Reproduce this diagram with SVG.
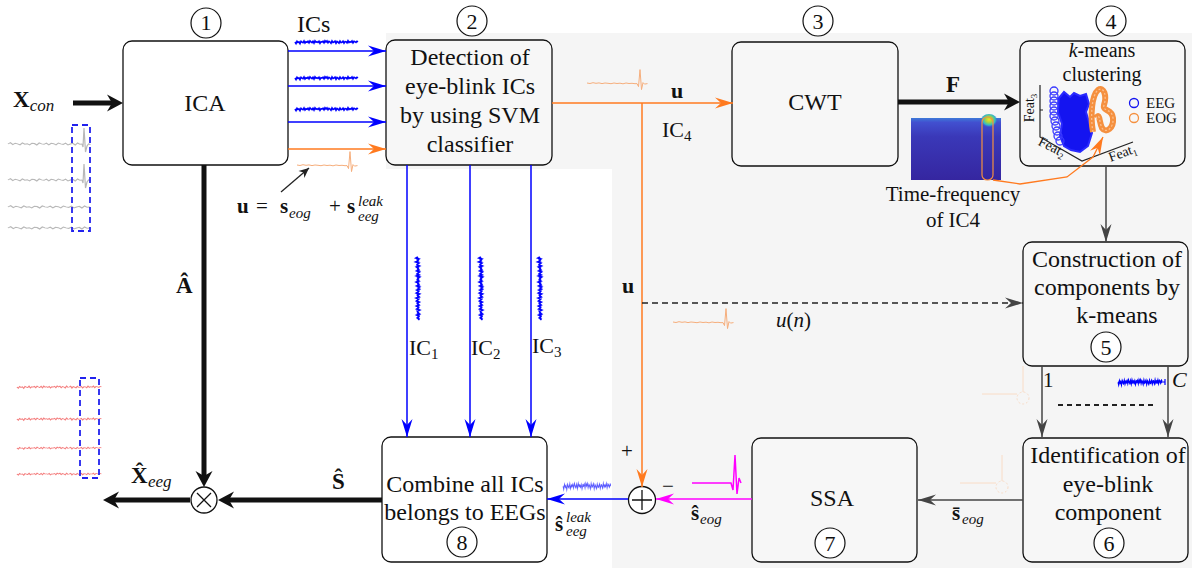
<svg xmlns="http://www.w3.org/2000/svg" width="1192" height="568" viewBox="0 0 1192 568" font-family="Liberation Serif, Tinos, Noto Serif, DejaVu Serif, FreeSerif, Times New Roman, serif">
<style>
.t{font-size:24px;fill:#111;text-anchor:middle}
.s{fill:#111}
.b{font-weight:bold}
.i{font-style:italic}
.box{fill:#f7f7f7;stroke:#111;stroke-width:1.3}
.wbox{fill:#fff;stroke:#111;stroke-width:1.3}
.num{fill:#fff;stroke:#111;stroke-width:1.2}
.nt{font-size:22px;fill:#111;text-anchor:middle}
.sig{fill:none;vector-effect:non-scaling-stroke}
.thick{stroke:#111;stroke-width:5;fill:none}
</style>
<defs>
<marker id="mB" viewBox="-19 -6 20 12" markerWidth="20" markerHeight="12" refX="0" refY="0" orient="auto" markerUnits="userSpaceOnUse"><path d="M0 0L-18 -5.5L-12 0L-18 5.5Z" fill="#0000ff"/></marker>
<marker id="mO" viewBox="-19 -6 20 12" markerWidth="20" markerHeight="12" refX="0" refY="0" orient="auto" markerUnits="userSpaceOnUse"><path d="M0 0L-18 -5.5L-12 0L-18 5.5Z" fill="#ff7a1f"/></marker>
<marker id="mM" viewBox="-19 -6 20 12" markerWidth="20" markerHeight="12" refX="0" refY="0" orient="auto" markerUnits="userSpaceOnUse"><path d="M0 0L-18 -5.5L-12 0L-18 5.5Z" fill="#ff00ff"/></marker>
<marker id="mG" viewBox="-19 -6 20 12" markerWidth="20" markerHeight="12" refX="0" refY="0" orient="auto" markerUnits="userSpaceOnUse"><path d="M0 0L-18 -5.5L-12 0L-18 5.5Z" fill="#444"/></marker>
<marker id="mK" viewBox="-17 -9 18 18" markerWidth="18" markerHeight="18" refX="-10" refY="0" orient="auto" markerUnits="userSpaceOnUse"><path d="M0 0L-16 -8.5L-11 0L-16 8.5Z" fill="#111"/></marker>
<marker id="mP" viewBox="-11 -5 12 10" markerWidth="12" markerHeight="10" refX="0" refY="0" orient="auto" markerUnits="userSpaceOnUse"><path d="M0 0L-10 -4.5L-7 0L-10 4.5Z" fill="#222"/></marker>
<path id="bn" d="M0 0l2 -1.6 2 2.4 2 -1.8 2 .8 2 1.2 2 -2.4 2 1.6 2 -.6 2 1.4 2 -2 2 .4 2 1.8 2 -2.6 2 1.2 2 .6 2 -1.4 2 2 2 -1.8 2 .4 2 1.4 2 -2.2 2 1 2 .8 2 -1.6 2 2.2 2 -1.2 2 -.8 2 2 2 -2.4 2 1.6 2 -.4"/>
<path id="bd" d="M0 0l1 1.5 1 -2.2 1 1.2 1 -.6 1 1.8 1 -2.4 1 .9 1 .5 1 -1.7 1 2.1 1 -1.3 1 .4 1 -.9 1 1.6 1 -2 1 1.1 1 .7 1 -1.5 1 1.9 1 -2.3 1 1.4 1 -.5 1 .8 1 -1.2 1 2 1 -1.6 1 .3 1 -.8 1 1.7 1 -2.1 1 1.2 1 -1.1 1 1.9 1 -1.4 1 .6 1 1.2 1 -2.3 1 1.5 1 -.4 1 -.9 1 2.2 1 -1.8 1 .7 1 .9 1 -2 1 1.4 1 -.3 1 -1 1 1.9 1 -1.5 1 .2 1 1.1 1 -2.1 1 1.7 1 -.8 1 .5 1 -1.3 1 2 1 -1.6 1 .4 1 .8 1 -1.2 1 .6"/>
<path id="eo" d="M0 0l3 .5 3 -.8 3 .6 3 -.4 3 .7 3 -.6 3 .3 3 .4 3 -.7 3 .5 3 -.3 3 .6 3 -.8 3 .5 3 -.2 3 .4 2 -.1 1.5 3 1.5 -17 1.5 20 1.5 -7 1.5 1.5 3 -.5"/>
<linearGradient id="spg" x1="0" y1="0" x2="0" y2="1"><stop offset="0" stop-color="#3d7ad8"/><stop offset=".07" stop-color="#4250d0"/><stop offset=".3" stop-color="#3a38b8"/><stop offset="1" stop-color="#3526a0"/></linearGradient>
<radialGradient id="spot" cx="0.5" cy="0.35" r="0.5"><stop offset="0" stop-color="#f7e21b"/><stop offset=".35" stop-color="#a6d640"/><stop offset=".7" stop-color="#2fb8c8"/><stop offset="1" stop-color="#3b50d0" stop-opacity="0"/></radialGradient>
</defs>

<!-- background -->
<path d="M386 33H1192V568H612V169H386Z" fill="#f5f5f5"/>

<!-- input signals (gray) -->
<g id="input-signals" stroke="#b8b8b8" stroke-width="1.2">
<use href="#bn" class="sig" transform="translate(8,144) scale(1.2,0.8)"/>
<path class="sig" d="M82 144l1 3 1 -19 1.5 24 1.5 -6 1.5 -2 2 .5"/>
<use href="#bn" class="sig" transform="translate(8,180) scale(1.2,0.8)"/>
<path class="sig" d="M82 180l1 3 1 -19 1.5 24 1.5 -6 1.5 -2 2 .5"/>
<use href="#bn" class="sig" transform="translate(8,207) scale(1.32,0.8)"/>
<use href="#bn" class="sig" transform="translate(8,228) scale(1.32,0.8)"/>
<rect x="72" y="125" width="18" height="106" fill="none" stroke="#2222ee" stroke-width="1.8" stroke-dasharray="6 4"/>
</g>

<!-- output signals (red) -->
<g id="output-signals" stroke="#f48080" stroke-width="1">
<use href="#bd" class="sig" transform="translate(17,387) scale(1.34,0.8)"/>
<use href="#bd" class="sig" transform="translate(17,419) scale(1.34,0.8)"/>
<use href="#bd" class="sig" transform="translate(17,448) scale(1.34,0.7)"/>
<use href="#bd" class="sig" transform="translate(17,474) scale(1.34,0.7)"/>
<rect x="80" y="378" width="19" height="100" fill="none" stroke="#2222ee" stroke-width="1.8" stroke-dasharray="6 4"/>
</g>

<!-- nodes -->
<g id="n1"><rect class="wbox" x="123" y="41" width="165" height="124" rx="9"/><text class="t" x="205" y="111">ICA</text><circle class="num" cx="206" cy="23" r="15"/><text class="nt" x="206" y="30">1</text></g>
<g id="n2"><rect class="box" x="386" y="40" width="166" height="125" rx="9"/>
<text class="t" x="470" y="65">Detection of</text><text class="t" x="470" y="94">eye-blink ICs</text><text class="t" x="470" y="123">by using SVM</text><text class="t" x="470" y="152">classifier</text>
<circle class="num" cx="472" cy="21" r="15"/><text class="nt" x="472" y="29">2</text></g>
<g id="n3"><rect class="box" x="732" y="42" width="166" height="124" rx="9"/><text class="t" x="815" y="110">CWT</text><circle class="num" cx="818" cy="21" r="15"/><text class="nt" x="818" y="29">3</text></g>
<g id="n4"><rect class="box" x="1020" y="41" width="165" height="125" rx="9"/>
<text class="t" x="1102" y="57" style="font-size:20px"><tspan class="i">k</tspan>-means</text><text class="t" x="1102" y="81" style="font-size:20px">clustering</text>
<g id="scatter">
<path d="M1040 85V137L1082 161L1133 142" fill="none" stroke="#222" stroke-width="1.2"/>
<path d="M1040 110h3" stroke="#222" stroke-width="1"/>
<text class="s" font-size="14" transform="translate(1034,108) rotate(-90)" text-anchor="middle">Feat<tspan font-size="9" dy="3">3</tspan></text>
<text class="s" font-size="14" transform="translate(1050,151) rotate(27)" text-anchor="middle">Feat<tspan font-size="9" dy="3">2</tspan></text>
<text class="s" font-size="14" transform="translate(1124,157) rotate(-20)" text-anchor="middle">Feat<tspan font-size="9" dy="3">1</tspan></text>
<path d="M1059 98L1064 92L1070 97L1074 93L1080 96L1086 94L1089 104L1086 112L1089 122L1092 133L1088 146L1080 152L1071 150L1064 146L1060 136L1062 124L1058 112Z" fill="#1414f0" stroke="#2a2aff" stroke-width="2"/>
<g fill="none" stroke="#3a3aff" stroke-width="1.3">
<circle cx="1054" cy="91" r="4"/><circle cx="1054" cy="96" r="4"/><circle cx="1054" cy="101" r="4"/><circle cx="1054" cy="106" r="4"/><circle cx="1054" cy="111" r="4"/><circle cx="1054" cy="116" r="4"/><circle cx="1055" cy="121" r="4"/><circle cx="1056" cy="126" r="4"/><circle cx="1057" cy="131" r="4"/><circle cx="1058" cy="136" r="4"/><circle cx="1060" cy="141" r="4"/>
</g>
<path d="M1093 132C1090 115 1092 95 1098 90C1104 86 1107 96 1104 105C1102 112 1112 108 1113 118C1114 128 1106 134 1102 128C1099 122 1100 112 1096 118" fill="none" stroke="#f5903f" stroke-width="6"/>
<path d="M1093 132C1090 115 1092 95 1098 90C1104 86 1107 96 1104 105C1102 112 1112 108 1113 118C1114 128 1106 134 1102 128C1099 122 1100 112 1096 118" fill="none" stroke="#fbbf8e" stroke-width="1.3" stroke-dasharray="2 2"/>
<circle cx="1134" cy="103" r="4.5" fill="none" stroke="#1414f0" stroke-width="1.3"/><text class="s" font-size="15" x="1146" y="108">EEG</text>
<circle cx="1134" cy="118" r="4.5" fill="none" stroke="#f5903f" stroke-width="1.3"/><text class="s" font-size="15" x="1146" y="123">EOG</text>
</g>
<circle class="num" cx="1111" cy="21" r="15"/><text class="nt" x="1111" y="29">4</text></g>
<g id="spectrogram"><rect x="911" y="118" width="90" height="62" fill="url(#spg)"/><ellipse cx="989" cy="122" rx="9" ry="8" fill="url(#spot)"/>
<rect x="982" y="117" width="11" height="63" rx="5" fill="none" stroke="#f5903f" stroke-width="1.2"/>
<text class="s" font-size="21" x="953" y="201" text-anchor="middle">Time-frequency</text><text class="s" font-size="21" x="953" y="227" text-anchor="middle">of IC4</text></g>
<g id="n5"><rect class="box" x="1023" y="242" width="165" height="124" rx="9"/>
<text class="t" x="1107" y="267">Construction of</text><text class="t" x="1107" y="295">components by</text><text class="t" x="1117" y="323">k-means</text>
<circle class="num" cx="1106" cy="347" r="15"/><text class="nt" x="1106" y="355">5</text></g>
<g id="n6"><rect class="box" x="1023" y="438" width="165" height="124" rx="9"/>
<text class="t" x="1108" y="463">Identification of</text><text class="t" x="1108" y="492">eye-blink</text><text class="t" x="1108" y="520">component</text>
<circle class="num" cx="1109" cy="543" r="15"/><text class="nt" x="1109" y="551">6</text></g>
<g id="n7"><rect class="box" x="752" y="438" width="165" height="124" rx="9"/><text class="t" x="832" y="506">SSA</text>
<circle class="num" cx="830" cy="543" r="15"/><text class="nt" x="830" y="551">7</text></g>
<g id="n8"><rect class="wbox" x="382" y="437" width="165" height="125" rx="9"/>
<text class="t" x="465" y="492">Combine all ICs</text><text class="t" x="465" y="520">belongs to EEGs</text>
<circle class="num" cx="462" cy="542" r="15"/><text class="nt" x="462" y="550">8</text></g>
<g id="sum"><circle cx="642" cy="500" r="13.5" fill="#fff" stroke="#111" stroke-width="1.3"/><path d="M642 490V510M632 500H652" stroke="#111" stroke-width="1.3"/></g>
<g id="mult"><circle cx="204" cy="500" r="13" fill="#fff" stroke="#111" stroke-width="1.3"/><path d="M197 493L211 507M211 493L197 507" stroke="#111" stroke-width="1.3"/></g>

<!-- connectors -->
<g id="connectors" fill="none">
<path d="M288 51H386" stroke="#0000ff" stroke-width="1.5" marker-end="url(#mB)"/>
<path d="M288 86H386" stroke="#0000ff" stroke-width="1.5" marker-end="url(#mB)"/>
<path d="M288 122H386" stroke="#0000ff" stroke-width="1.5" marker-end="url(#mB)"/>
<path d="M288 149H386" stroke="#ff7a1f" stroke-width="1.5" marker-end="url(#mO)"/>
<path d="M552 103H733" stroke="#ff7a1f" stroke-width="1.5" marker-end="url(#mO)"/>
<path d="M642 103V487" stroke="#ff7a1f" stroke-width="1.5" marker-end="url(#mO)"/>
<path d="M642 303H1023" stroke="#222" stroke-width="1.5" stroke-dasharray="6 4" marker-end="url(#mG)"/>
<path d="M407 165V437" stroke="#0000ff" stroke-width="1.5" marker-end="url(#mB)"/>
<path d="M470 165V437" stroke="#0000ff" stroke-width="1.5" marker-end="url(#mB)"/>
<path d="M531 165V437" stroke="#0000ff" stroke-width="1.5" marker-end="url(#mB)"/>
<path d="M1106 166V242" stroke="#444" stroke-width="1.5" marker-end="url(#mG)"/>
<path d="M1042 366V437" stroke="#444" stroke-width="1.5" marker-end="url(#mG)"/>
<path d="M1168 366V437" stroke="#444" stroke-width="1.5" marker-end="url(#mG)"/>
<path d="M1058 405H1153" stroke="#222" stroke-width="2" stroke-dasharray="5 4"/>
<path d="M1023 500H918" stroke="#444" stroke-width="1.5" marker-end="url(#mG)"/>
<path d="M752 499H656" stroke="#ff00ff" stroke-width="1.5" marker-end="url(#mM)"/>
<path d="M628 499H547" stroke="#0000ff" stroke-width="1.5" marker-end="url(#mB)"/>
<path d="M993 180L1020 184L1067 177L1093 157L1103 137" stroke="#ff7a1f" stroke-width="1.3" marker-end="url(#mO)"/>
<path d="M281 192L309 168" stroke="#222" stroke-width="1.3" marker-end="url(#mP)"/>
<path class="thick" d="M73 103H113" marker-end="url(#mK)"/>
<path class="thick" d="M204 165V477" marker-end="url(#mK)"/>
<path class="thick" d="M382 500H228" marker-end="url(#mK)"/>
<path class="thick" d="M190 500H113" marker-end="url(#mK)"/>
<path class="thick" d="M898 102H1010" marker-end="url(#mK)"/>
</g>

<!-- signal glyphs -->
<g id="signals">
<g stroke="#0000ff" stroke-width="1.6">
<use href="#bd" class="sig" transform="translate(295,42)"/>
<use href="#bd" class="sig" transform="translate(295,78)"/>
<use href="#bd" class="sig" transform="translate(295,109)"/>
<use href="#bd" class="sig" transform="translate(418,257) rotate(90) scale(1,1.3)"/>
<use href="#bd" class="sig" transform="translate(481,257) rotate(90) scale(1,1.3)"/>
<use href="#bd" class="sig" transform="translate(540,257) rotate(90) scale(1,1.3)"/>
<use href="#bd" class="sig" transform="translate(1118,382) scale(0.7,1.8)"/>
<path d="M1161 382H1165M1165 379V385" stroke-width="1.2"/>
</g>
<use href="#bd" class="sig" stroke="#5a5aff" stroke-width="1" transform="translate(563,486) scale(0.76,2.4)"/>
<g stroke="#f6ae7c" stroke-width="1">
<use href="#eo" class="sig" transform="translate(297,165)"/>
<use href="#eo" class="sig" transform="translate(587,83)"/>
<use href="#eo" class="sig" transform="translate(673,322)"/>
</g>
<path d="M692 483H731L733 490L735 455L737 494L739 478L741 483" fill="none" stroke="#ff00ff" stroke-width="1.5"/>
<g stroke="#f9dcc6" stroke-width="1" fill="none">
<path d="M982 394H1017M1023 366V392"/><circle cx="1023" cy="398" r="6" stroke-dasharray="2 2"/>
<path d="M960 483H996M1002 455V481"/><circle cx="1002" cy="487" r="6" stroke-dasharray="2 2"/>
</g>
</g>

<!-- labels -->
<g id="labels">
<text class="s b" font-size="23" x="13" y="107">X<tspan class="i" font-weight="normal" font-size="17" dy="4">con</tspan></text>
<text class="s" font-size="24" x="297" y="32">ICs</text>
<text class="s b" font-size="21" x="237" y="213">u</text>
<text class="s" font-size="21" x="256" y="213">=</text>
<text class="s b" font-size="21" x="280" y="213">s</text>
<text class="s i" font-size="15" x="289" y="218">eog</text>
<text class="s" font-size="21" x="329" y="213">+</text>
<text class="s b" font-size="21" x="347" y="213">s</text>
<text class="s i" font-size="15" x="358" y="206">leak</text>
<text class="s i" font-size="15" x="358" y="221">eeg</text>
<text class="s b" font-size="22" x="671" y="98">u</text>
<text class="s" font-size="22" x="662" y="137">IC<tspan font-size="15" dy="4">4</tspan></text>
<text class="s b" font-size="23" x="946" y="92">F</text>
<text class="s" font-size="22" x="409" y="355">IC<tspan font-size="15" dy="4">1</tspan></text>
<text class="s" font-size="22" x="471" y="355">IC<tspan font-size="15" dy="4">2</tspan></text>
<text class="s" font-size="22" x="532" y="353">IC<tspan font-size="15" dy="4">3</tspan></text>
<text class="s b" font-size="22" x="622" y="293">u</text>
<text class="s i" font-size="21" x="776" y="327">u<tspan font-style="normal">(</tspan>n<tspan font-style="normal">)</tspan></text>
<text class="s" font-size="21" x="1043" y="387">1</text>
<text class="s i" font-size="22" x="1172" y="387">C</text>
<text class="s" font-size="21" x="621" y="458">+</text>
<text class="s" font-size="21" x="662" y="493">−</text>
<text class="s b" font-size="21" x="691" y="520">ŝ</text>
<text class="s i" font-size="15" x="700" y="524">eog</text>
<text class="s b" font-size="21" x="555" y="531">ŝ</text>
<text class="s i" font-size="15" x="566" y="522">leak</text>
<text class="s i" font-size="15" x="566" y="536">eeg</text>
<text class="s b" font-size="21" x="952" y="520">s̄</text>
<text class="s i" font-size="15" x="962" y="524">eog</text>
<text class="s b" font-size="23" x="176" y="293">Â</text>
<text class="s b" font-size="23" x="332" y="489">Ŝ</text>
<text class="s b" font-size="23" x="131" y="483">X̂</text>
<text class="s i" font-size="17" x="148" y="487">eeg</text>
</g>
</svg>
